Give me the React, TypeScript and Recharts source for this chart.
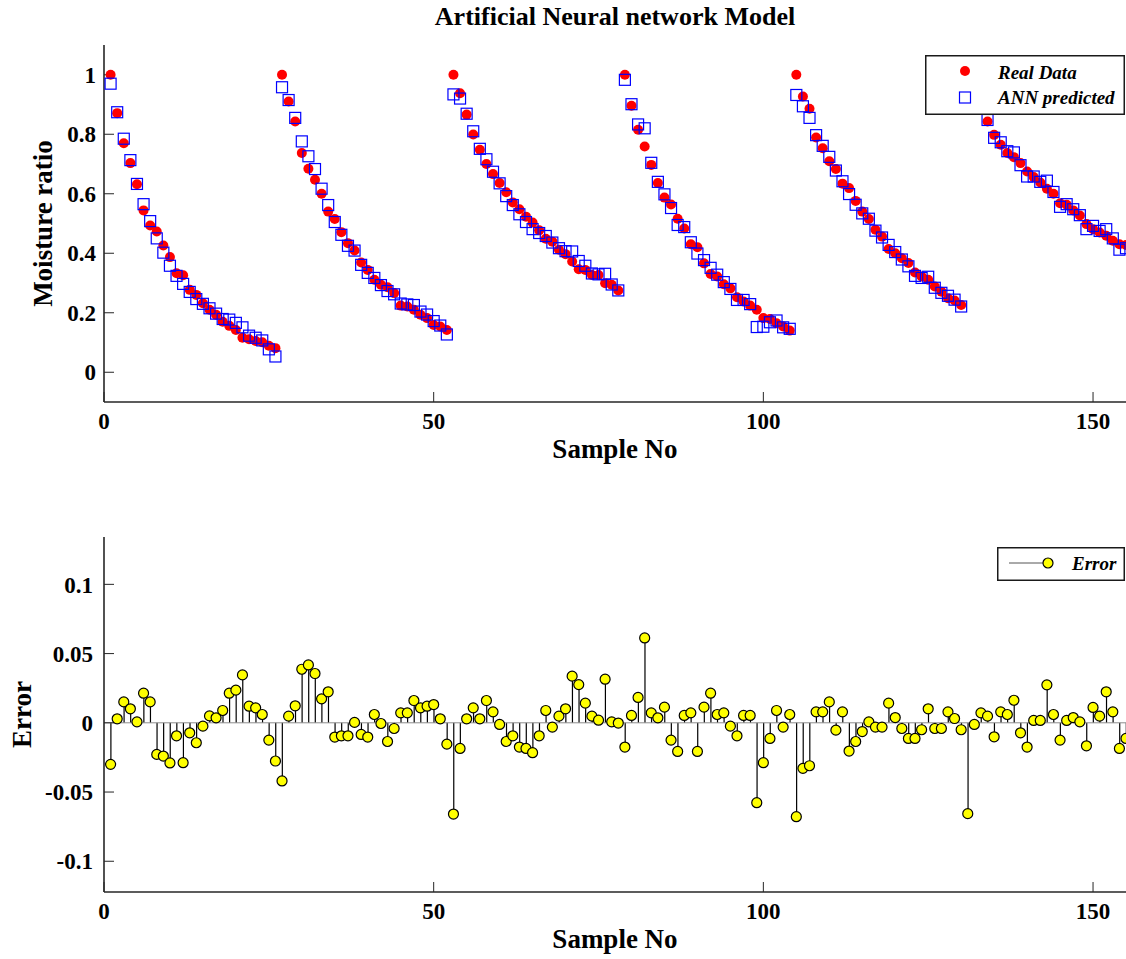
import { ComposedChart, Scatter, Bar, XAxis, YAxis, Legend, ReferenceLine } from 'recharts';

const FONT = '"Liberation Serif", "Times New Roman", Times, serif';

// moisture ratio per sample, six drying runs of 26 samples each
const realData = [
  1.0, 0.871, 0.77, 0.703, 0.632, 0.544, 0.493, 0.473, 0.426, 0.387, 0.333, 0.326, 0.277,
  0.26, 0.232, 0.21, 0.193, 0.17, 0.156, 0.142, 0.116, 0.111, 0.105, 0.101, 0.089, 0.081,
  1.0, 0.91, 0.843, 0.737, 0.684, 0.647, 0.6, 0.54, 0.515, 0.471, 0.434, 0.409, 0.369,
  0.344, 0.311, 0.294, 0.286, 0.266, 0.224, 0.221, 0.21, 0.193, 0.182, 0.159, 0.154, 0.142,
  1.0, 0.938, 0.866, 0.799, 0.748, 0.7, 0.666, 0.636, 0.605, 0.571, 0.548, 0.523, 0.503,
  0.477, 0.449, 0.439, 0.412, 0.397, 0.372, 0.346, 0.344, 0.327, 0.327, 0.299, 0.294, 0.275,
  1.0, 0.896, 0.815, 0.759, 0.697, 0.636, 0.587, 0.564, 0.516, 0.483, 0.43, 0.42, 0.366,
  0.33, 0.322, 0.296, 0.282, 0.252, 0.238, 0.224, 0.21, 0.182, 0.179, 0.165, 0.154, 0.14,
  1.0, 0.927, 0.886, 0.789, 0.753, 0.709, 0.683, 0.634, 0.619, 0.576, 0.54, 0.515, 0.479,
  0.456, 0.414, 0.4, 0.383, 0.367, 0.335, 0.322, 0.311, 0.288, 0.271, 0.249, 0.241, 0.226,
  1.0, 0.935, 0.885, 0.843, 0.798, 0.765, 0.737, 0.723, 0.703, 0.675, 0.656, 0.638, 0.617,
  0.6, 0.568, 0.563, 0.544, 0.527, 0.498, 0.481, 0.47, 0.459, 0.442, 0.43, 0.428,
];

const annPredicted = [
  0.97, 0.874, 0.785, 0.713, 0.633, 0.565, 0.508, 0.45, 0.402, 0.358, 0.324, 0.297, 0.27,
  0.246, 0.23, 0.215, 0.197, 0.179, 0.177, 0.166, 0.151, 0.123, 0.116, 0.107, 0.077, 0.053,
  0.958, 0.915, 0.855, 0.776, 0.726, 0.683, 0.617, 0.562, 0.505, 0.462, 0.425, 0.409, 0.361,
  0.334, 0.317, 0.293, 0.273, 0.262, 0.231, 0.228, 0.226, 0.204, 0.194, 0.172, 0.157, 0.127,
  0.934, 0.92, 0.869, 0.81, 0.751, 0.716, 0.674, 0.635, 0.592, 0.562, 0.531, 0.505, 0.481,
  0.468, 0.458, 0.436, 0.417, 0.407, 0.406, 0.374, 0.358, 0.332, 0.329, 0.331, 0.295, 0.275,
  0.983, 0.901, 0.833, 0.82, 0.704, 0.64, 0.598, 0.552, 0.495, 0.488, 0.437, 0.399, 0.377,
  0.351, 0.328, 0.303, 0.28, 0.243, 0.243, 0.229, 0.152, 0.153, 0.168, 0.174, 0.151, 0.146,
  0.932, 0.894, 0.855, 0.797, 0.761, 0.724, 0.678, 0.642, 0.599, 0.563, 0.534, 0.516, 0.476,
  0.453, 0.428, 0.404, 0.379, 0.356, 0.324, 0.317, 0.321, 0.284, 0.267, 0.257, 0.244, 0.221,
  0.934, 0.934, 0.892, 0.848, 0.788, 0.773, 0.743, 0.739, 0.696, 0.658, 0.658, 0.64, 0.644,
  0.606, 0.556, 0.565, 0.548, 0.528, 0.481, 0.492, 0.475, 0.481, 0.45, 0.412, 0.417,
];

// prediction error (ANN - real)
const errorValues = [
  -0.03, 0.0029, 0.0151, 0.0101, 0.0007, 0.0214, 0.0151, -0.0228, -0.024, -0.029, -0.0094,
  -0.0288, -0.0072, -0.0144, -0.0024, 0.005, 0.0036, 0.0089, 0.0214, 0.0236, 0.0346, 0.012,
  0.0108, 0.006, -0.0125, -0.0276, -0.042, 0.0048, 0.0123, 0.0387, 0.0418, 0.0356, 0.0173,
  0.0224, -0.0103, -0.0094, -0.0094, 0.0003, -0.0084, -0.0103, 0.006, -0.0005, -0.0135,
  -0.0041, 0.0072, 0.0072, 0.0161, 0.0108, 0.012, 0.0132, 0.0029, -0.0154, -0.0659, -0.0185,
  0.0029, 0.0108, 0.0029, 0.0161, 0.0079, -0.0012, -0.0135, -0.0094, -0.0175, -0.0185,
  -0.0216, -0.0094, 0.0089, -0.0031, 0.0048, 0.0101, 0.0337, 0.0276, 0.0142, 0.0048, 0.0019,
  0.0315, 0.0007, -0.0002, -0.0175, 0.0053, 0.0183, 0.0613, 0.0072, 0.0036, 0.0113, -0.0125,
  -0.0207, 0.0053, 0.0072, -0.0207, 0.0113, 0.0214, 0.006, 0.0072, -0.0024, -0.0094, 0.0053,
  0.0053, -0.0577, -0.0288, -0.0113, 0.0089, -0.0031, 0.006, -0.0678, -0.0329, -0.031,
  0.0079, 0.0079, 0.0151, -0.0053, 0.0079, -0.0204, -0.0135, -0.0063, 0.0007, -0.0031,
  -0.0031, 0.0142, 0.0038, -0.0041, -0.0113, -0.0113, -0.005, 0.0101, -0.0041, -0.0041,
  0.0079, 0.0031, -0.005, -0.0656, -0.0012, 0.0072, 0.0048, -0.0101, 0.0079, 0.006, 0.0163,
  -0.0072, -0.0175, 0.0017, 0.0017, 0.0274, 0.006, -0.0125, 0.0017, 0.0038, 0.0007, -0.0166,
  0.0111, 0.0048, 0.0224, 0.0079, -0.0185, -0.0113,
];

const sampleTicks = [0, 50, 100, 150];
const ratioTicks = [0, 0.2, 0.4, 0.6, 0.8, 1];
const errorTicks = [-0.1, -0.05, 0, 0.05, 0.1];

const realPoints = realData.map((v, i) => ({ n: i + 1, v }));
const annPoints = annPredicted.map((v, i) => ({ n: i + 1, v }));
const errorPoints = errorValues.map((err, i) => ({ n: i + 1, err }));

const axisLine = { stroke: '#262626', strokeWidth: 1.6 };
const tickLine = { stroke: '#262626', strokeWidth: 1 };
const tickStyle = { fill: '#000', fontSize: 23, fontWeight: 700, fontFamily: FONT };
const labelStyle = { fill: '#000', fontSize: 27, fontWeight: 700, fontFamily: FONT };
const keyText = { fill: '#000', fontSize: 19, fontWeight: 700, fontStyle: 'italic', fontFamily: FONT };

const RedDot = (p: any) => <circle cx={p.cx} cy={p.cy} r={5} fill="#ff0000" />;
const BlueSquare = (p: any) => (
  <rect x={p.cx - 5.5} y={p.cy - 5.5} width={11} height={11} fill="none" stroke="#0000ff" strokeWidth={1.2} />
);
const YellowDot = (p: any) => (
  <circle cx={p.cx} cy={p.cy} r={5} fill="#ffff00" stroke="#000" strokeWidth={1.2} />
);

function RatioKey() {
  return (
    <svg width={200} height={60} style={{ display: 'block' }}>
      <rect x={0.75} y={0.75} width={198.5} height={58.5} fill="#fff" stroke="#1a1a1a" strokeWidth={1.5} />
      <circle cx={40} cy={16} r={5} fill="#ff0000" />
      <text x={73} y={23.5} {...keyText}>Real Data</text>
      <rect x={34.5} y={37} width={11} height={11} fill="none" stroke="#0000ff" strokeWidth={1.2} />
      <text x={73} y={49} {...keyText}>ANN predicted</text>
    </svg>
  );
}

function ErrorKey() {
  return (
    <svg width={128} height={34} style={{ display: 'block' }}>
      <rect x={0.75} y={0.75} width={126.5} height={32.5} fill="#fff" stroke="#1a1a1a" strokeWidth={1.5} />
      <line x1={12} y1={16} x2={51} y2={16} stroke="#555" strokeWidth={1} />
      <circle cx={51} cy={16} r={5} fill="#ffff00" stroke="#000" strokeWidth={1.2} />
      <text x={75} y={23} {...keyText}>Error</text>
    </svg>
  );
}

function RatioPanel() {
  return (
    <ComposedChart width={1126} height={480} margin={{ top: 45, right: 0, bottom: 0, left: 0 }}>
      <XAxis
        xAxisId="b" type="number" dataKey="n" domain={[0, 155]} ticks={sampleTicks} interval={0}
        allowDataOverflow height={78} tickSize={-10} tickMargin={21}
        axisLine={axisLine} tickLine={tickLine} tick={tickStyle}
        label={{ value: 'Sample No', position: 'insideBottom', offset: 22, ...labelStyle }}
      />
      <XAxis
        xAxisId="t" orientation="top" type="number" domain={[0, 155]} ticks={sampleTicks} interval={0}
        allowDataOverflow height={0} tickSize={-10} tick={false} axisLine={axisLine} tickLine={tickLine}
      />
      <YAxis
        yAxisId="l" type="number" domain={[-0.1, 1.1]} ticks={ratioTicks} interval={0} allowDataOverflow
        width={104} tickSize={-10} tickMargin={18} axisLine={axisLine} tickLine={tickLine} tick={tickStyle}
        label={{ value: 'Moisture ratio', angle: -90, position: 'insideLeft', offset: 42, ...labelStyle, style: { textAnchor: 'middle' } }}
      />
      <YAxis
        yAxisId="r" orientation="right" type="number" domain={[-0.1, 1.1]} ticks={ratioTicks} interval={0}
        allowDataOverflow width={0} tickSize={-10} tick={false} axisLine={axisLine} tickLine={tickLine}
      />
      <Scatter name="Real Data" data={realPoints} dataKey="v" xAxisId="b" yAxisId="l" shape={RedDot} isAnimationActive={false} />
      <Scatter name="ANN predicted" data={annPoints} dataKey="v" xAxisId="b" yAxisId="l" shape={BlueSquare} isAnimationActive={false} />
      <Legend
        layout="horizontal" verticalAlign="middle" align="center" content={<RatioKey />}
        wrapperStyle={{ top: 55, left: 925, width: 200, height: 60 }}
      />
    </ComposedChart>
  );
}

function ErrorPanel() {
  return (
    <ComposedChart width={1126} height={479} data={errorPoints} margin={{ top: 57, right: 0, bottom: 0, left: 0 }}>
      <XAxis
        xAxisId="b" type="number" dataKey="n" domain={[0, 155]} ticks={sampleTicks} interval={0}
        allowDataOverflow height={67} tickSize={-10} tickMargin={21}
        axisLine={axisLine} tickLine={tickLine} tick={tickStyle}
        label={{ value: 'Sample No', position: 'insideBottom', offset: 11, ...labelStyle }}
      />
      <XAxis
        xAxisId="t" orientation="top" type="number" domain={[0, 155]} ticks={sampleTicks} interval={0}
        allowDataOverflow height={0} tickSize={-10} tick={false} axisLine={axisLine} tickLine={tickLine}
      />
      <YAxis
        yAxisId="l" type="number" domain={[-0.1222, 0.1342]} ticks={errorTicks} interval={0} allowDataOverflow
        width={104} tickSize={-10} tickMargin={21} axisLine={axisLine} tickLine={tickLine} tick={tickStyle}
        label={{ value: 'Error', angle: -90, position: 'insideLeft', offset: 21, ...labelStyle, style: { textAnchor: 'middle' } }}
      />
      <YAxis
        yAxisId="r" orientation="right" type="number" domain={[-0.1222, 0.1342]} ticks={errorTicks} interval={0}
        allowDataOverflow width={0} tickSize={-10} tick={false} axisLine={axisLine} tickLine={tickLine}
      />
      <ReferenceLine xAxisId="b" yAxisId="l" y={0} stroke="#8c8c8c" strokeWidth={1} />
      <Scatter name="Error" dataKey="err" xAxisId="b" yAxisId="l" shape={YellowDot} isAnimationActive={false} />
      {/* stems from the zero line to each error marker */}
      <Bar dataKey="err" xAxisId="b" yAxisId="l" barSize={1.2} fill="#000" isAnimationActive={false} />
      <Legend
        layout="horizontal" verticalAlign="middle" align="center" content={<ErrorKey />}
        wrapperStyle={{ top: 67, left: 997, width: 128, height: 34 }}
      />
    </ComposedChart>
  );
}

export default function App() {
  return (
    <div style={{ position: 'absolute', left: 0, top: 0, width: 1126, height: 959, background: '#fff', overflow: 'hidden' }}>
      <div style={{ position: 'absolute', left: 0, top: 0 }}>
        <RatioPanel />
      </div>
      <div
        style={{
          position: 'absolute', left: 104, top: 4, width: 1022, textAlign: 'center',
          fontFamily: FONT, fontSize: 26, fontWeight: 700, lineHeight: '26px', color: '#000',
        }}
      >
        Artificial Neural network Model
      </div>
      <div style={{ position: 'absolute', left: 0, top: 480 }}>
        <ErrorPanel />
      </div>
    </div>
  );
}
